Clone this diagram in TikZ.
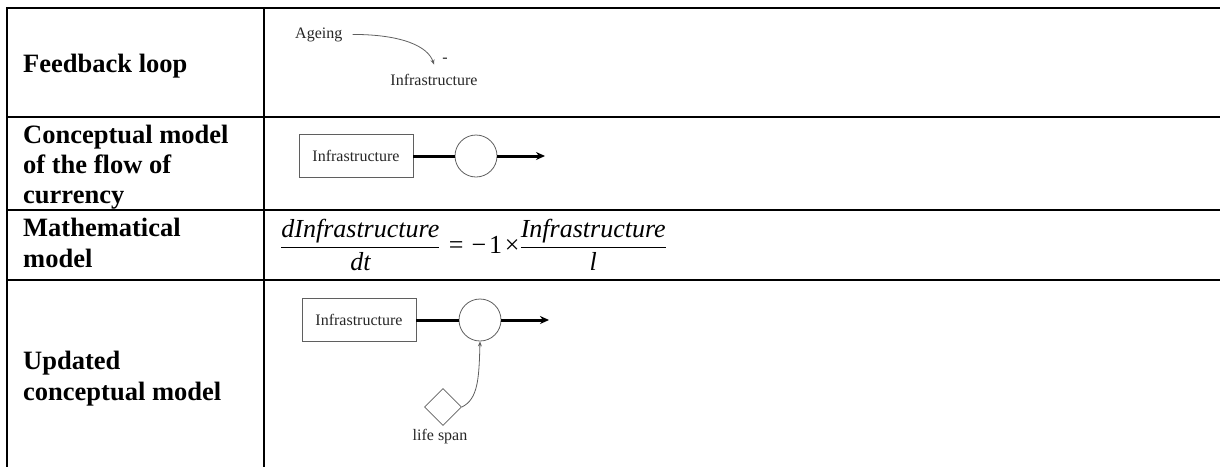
\documentclass[tikz,border=0pt]{standalone}
\usepackage{fontspec}
\setmainfont{Liberation Serif}
\usetikzlibrary{arrows.meta,shapes.geometric,calc}
\definecolor{pgray}{RGB}{95,95,95}
\tikzset{
  rule/.style={line width=2.5pt,line cap=rect},
  lbl/.style={anchor=base west,inner sep=0pt,font=\fontsize{26.5}{30}\selectfont\bfseries},
  small/.style={inner sep=0pt,font=\fontsize{16}{18}\selectfont,text=black!85},
  stock/.style={draw=pgray,line width=0.8pt,rectangle,minimum width=114pt,minimum height=43pt,inner sep=0pt,font=\fontsize{16}{18}\selectfont,text=black!85},
  valve/.style={draw=pgray,line width=0.8pt,circle,minimum size=42pt,inner sep=0pt},
  flow/.style={line width=3pt},
  flowtip/.style={-{Stealth[length=9pt,width=8pt]}},
  link/.style={draw=pgray,line width=0.8pt,-{Stealth[length=5pt,width=4pt]}}
}
\begin{document}
\begin{tikzpicture}[x=1pt,y=-1pt]
\useasboundingbox (0,0) rectangle (1220,466);
% table rules
\draw[rule] (7,466) -- (7,8) -- (1220,8);
\draw[rule] (264,8) -- (264,466);
\draw[rule] (7,117) -- (1220,117);
\draw[rule] (7,210) -- (1220,210);
\draw[rule] (7,280) -- (1220,280);
% left column labels
\node[lbl] (l1) at (23,72) {Feedback loop};
\node[lbl] (l2a) at (23,143) {Conceptual model};
\node[lbl] (l2b) at (23,173) {of the flow of};
\node[lbl] (l2c) at (23,203) {currency};
\node[lbl] (l3a) at (23,236) {Mathematical};
\node[lbl] (l3b) at (23,267) {model};
\node[lbl] (l4a) at (23,369) {Updated};
\node[lbl] (l4b) at (23,400) {conceptual model};
% row 1: feedback loop
\node[small,anchor=base west] (ageing) at (295,38) {Ageing};
\node[small,anchor=base] (infra1) at (434,85) {Infrastructure};
\node[small,anchor=base] (minus) at (445,62) {-};
\draw[link] ([xshift=10pt]ageing.east) .. controls +(50,0) and +(-6,-18) .. ($(infra1.north)+(0,-9)$);
% row 2: conceptual model
\node[stock] (box2) at (356,156) {Infrastructure};
\node[valve] (c2) at (476,156) {};
\coordinate (out2) at (545,156);
\draw[flow] (box2.east) -- (c2.west);
\draw[flow,flowtip] (c2.east) -- (out2);
% row 3: equation
\node[anchor=west,inner sep=0pt,font=\fontsize{26}{30}\selectfont] (eq) at (280,245)
  {$\displaystyle\frac{\textit{dInfrastructure}}{\textit{dt}}\mkern6mu\textup{=}\mkern6mu\textup{−}\mkern2mu\textup{1}\mkern2mu\textup{×}\frac{\textit{Infrastructure}}{\textit{l}}$};
% row 4: updated conceptual model
\node[stock] (box4) at (359,320) {Infrastructure};
\node[valve] (c4) at (480,320) {};
\coordinate (out4) at (549,320);
\draw[flow] (box4.east) -- (c4.west);
\draw[flow,flowtip] (c4.east) -- (out4);
\node[draw=pgray,line width=0.8pt,diamond,minimum size=37pt,inner sep=0pt] (life) at (443,407) {};
\node[small,anchor=base] (lifelbl) at (440,440) {life span};
\draw[link] (life.east) .. controls +(16,-8) and +(-1,38) .. (c4.south);
\end{tikzpicture}
\end{document}
